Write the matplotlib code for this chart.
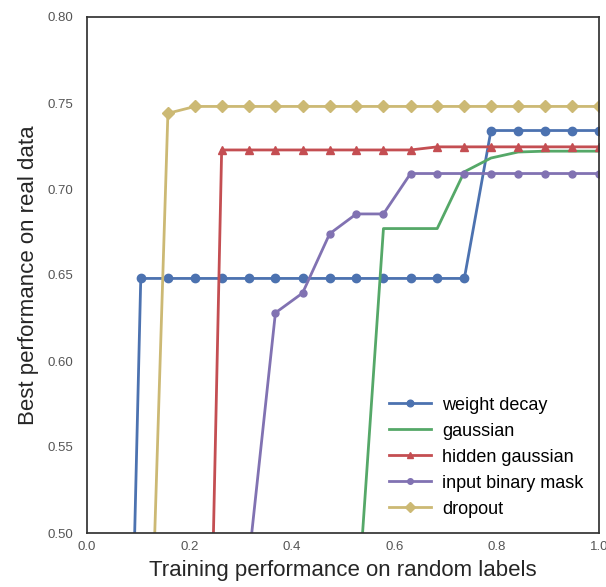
import matplotlib
matplotlib.use("Agg")
import matplotlib.pyplot as plt

# Threshold on training performance (random labels)
x = [0.0, 0.053, 0.105, 0.158, 0.211, 0.263, 0.316, 0.368, 0.421, 0.474,
     0.526, 0.579, 0.632, 0.684, 0.737, 0.789, 0.842, 0.895, 0.947, 1.0]

# Best real-data performance for each regulariser
weight_decay = [0.0, 0.0] + [0.648] * 13 + [0.734] * 5
gaussian = [0.0] * 10 + [0.447, 0.677, 0.677, 0.677, 0.710, 0.718, 0.7215,
                         0.722, 0.722, 0.722]
hidden_gaussian = [0.0] * 5 + [0.7227] * 8 + [0.7245] * 7
input_binary_mask = [0.0] * 6 + [0.484, 0.628, 0.6395, 0.674, 0.6855, 0.6855] + [0.709] * 8
dropout = [0.0, 0.0, 0.24, 0.744] + [0.748] * 16

plt.rcParams['font.family'] = ['Liberation Sans', 'DejaVu Sans']

fig = plt.figure(figsize=(6.06, 5.87), dpi=100)
ax = fig.add_axes([87 / 606, 54 / 587, 512 / 606, 516 / 587])

lw = 2.0
ax.plot(x, weight_decay, color='#4C72B0', marker='o', markersize=6, lw=lw, label='weight decay')
ax.plot(x, gaussian, color='#55A868', lw=lw, label='gaussian')
ax.plot(x, hidden_gaussian, color='#C44E52', marker='^', markersize=6, lw=lw, label='hidden gaussian')
ax.plot(x, input_binary_mask, color='#8172B2', marker='o', markersize=5, lw=lw, label='input binary mask')
ax.plot(x, dropout, color='#CCB974', marker='D', markersize=6, lw=lw, label='dropout')

ax.set_xlim(0, 1)
ax.set_ylim(0.5, 0.8)
ax.set_xticks([0.0, 0.2, 0.4, 0.6, 0.8, 1.0])
ax.set_yticks([0.50, 0.55, 0.60, 0.65, 0.70, 0.75, 0.80])
ax.set_yticklabels(['0.50', '0.55', '0.60', '0.65', '0.70', '0.75', '0.80'])
ax.tick_params(axis='y', length=0, labelsize=9.5, labelcolor='#555555', pad=10)
ax.tick_params(axis='x', length=0, labelsize=9.5, labelcolor='#555555', pad=6)

for s in ax.spines.values():
    s.set_color('#333333')
    s.set_linewidth(1.25)

ax.set_xlabel('Training performance on random labels', fontsize=16, color='#262626', labelpad=5)
ax.set_ylabel('Best performance on real data', fontsize=16, color='#262626', labelpad=6)

ax.legend(loc='lower right', frameon=False, fontsize=13, labelspacing=0.5,
          handlelength=2.3, handletextpad=0.65, markerscale=0.8, borderaxespad=0.45)

fig.savefig('out.png', dpi=100)
